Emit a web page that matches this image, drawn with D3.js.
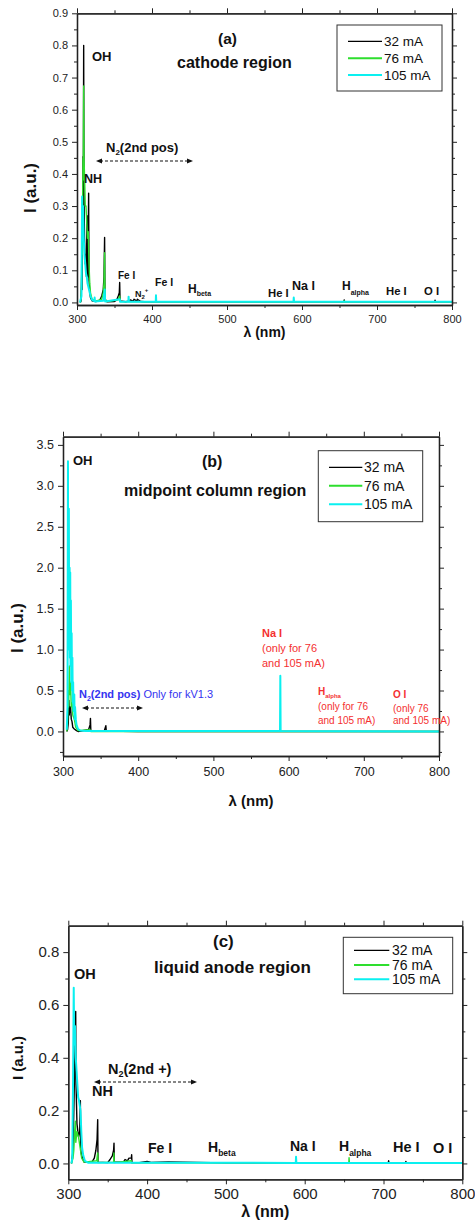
<!DOCTYPE html>
<html>
<head>
<meta charset="utf-8">
<script src="https://cdn.jsdelivr.net/npm/d3@7"></script>
<style>
  body { margin: 0; background: #fff; }
  svg { display: block; }
  text { font-family: "Liberation Sans", Arial, Helvetica, sans-serif; }
</style>
</head>
<body>
<svg id="fig" width="475" height="1223"></svg>
<script>
// ---- shared ----
const seriesNames  = ["32 mA", "76 mA", "105 mA"];
const seriesColors = ["#000000", "#2ede2e", "#0af0f0"];
const xMajor = [300, 400, 500, 600, 700, 800];
const xMinor = [350, 450, 550, 650, 750];

// ---- (a) cathode region: [wavelength nm, intensity a.u.] ----
const cathode32 = [
  [304.5,0],[305.5,0.005],[306.4,0.10],[306.8,0.04],[307.5,0.25],[308,0.454],[308.4,0.30],
  [308.9,0.80],[309.3,0.35],[310,0.20],[311,0.12],[312,0.15],[312.6,0.08],[313.3,0.27],
  [313.8,0.10],[314.7,0.08],[315.5,0.34],[316,0.07],[317,0.03],[318,0.015],[320,0.005],
  [325,0.003],[330,0.005],[333,0.02],[335,0.04],[336,0.08],[336.8,0.202],[337.3,0.01],
  [340,0.002],[350,0.003],[353,0.008],[355,0.02],[356.4,0.03],[356.9,0.062],[357.4,0.005],
  [365,0.002],[370,0.005],[371,0.008],[375,0.004],[376,0.01],[380,0.004],[380.5,0.01],
  [385,0.003],[390,0.002],[450,0.002],[500,0.002],[600,0.002],[656,0.002],[656.3,0.008],
  [656.8,0.002],[700,0.002],[777,0.002],[777.4,0.007],[777.8,0.002],[800,0.002]
];
const cathode76 = [
  [304,0],[305,0.005],[306,0.05],[306.5,0.20],[307,0.15],[307.6,0.35],[308,0.45],[308.3,0.38],
  [308.9,0.674],[309.3,0.45],[310,0.40],[311,0.30],[312,0.30],[313,0.25],[314,0.20],[315,0.22],
  [316,0.12],[317,0.06],[318,0.03],[320,0.01],[325,0.004],[333,0.01],[335,0.03],[336,0.06],
  [336.8,0.155],[337.3,0.01],[340,0.003],[355,0.008],[356.9,0.02],[357.5,0.003],[400,0.002],
  [656,0.002],[656.3,0.005],[656.7,0.002],[800,0.002]
];
const cathode105 = [
  [304,0],[305,0.01],[306,0.02],[306.8,0.33],[307.2,0.20],[308,0.30],[309,0.20],[310,0.15],
  [311,0.12],[312,0.09],[313,0.08],[314,0.06],[315,0.05],[316,0.04],[318,0.02],[320,0.008],
  [323,0.004],[323.5,0.015],[324,0.003],[335,0.005],[337,0.04],[337.5,0.003],[357,0.01],
  [357.5,0.002],[368.5,0.003],[368.8,0.018],[369.2,0.002],[405,0.002],[405.3,0.022],
  [405.7,0.002],[588.7,0.002],[589,0.015],[589.4,0.002],[800,0.002]
];

// ---- (b) midpoint column region ----
const midpoint32 = [
  [305,0],[306,0.02],[307,0.10],[307.8,0.38],[308.3,0.20],[309,0.30],[309.5,0.25],[310,0.30],
  [311,0.15],[312,0.12],[313,0.05],[315,0.03],[318,0.01],[320,0],[334,0.02],[336,0.08],
  [336.5,0.16],[337,0.01],[355,0.01],[357,0.07],[357.5,0.005],[400,0],[800,0]
];
const midpoint76 = [
  [305,0],[306,0.10],[307,0.50],[307.5,0.30],[308.5,0.80],[309,0.45],[310,0.60],[311,0.30],
  [312,0.35],[313,0.20],[315,0.15],[317,0.05],[320,0.01],[336,0.02],[337,0],[800,0]
];
const midpoint105 = [
  [305,0.02],[306,0.30],[306.6,3.30],[307,1.20],[307.4,2.20],[307.8,2.72],[308.2,1.00],
  [308.8,2.00],[309.2,0.90],[309.6,1.94],[310,0.80],[310.5,1.60],[311,0.60],[311.5,1.20],
  [312,0.50],[312.5,0.90],[313,0.35],[313.5,0.60],[314,0.25],[315,0.45],[315.5,0.15],
  [316,0.30],[317,0.15],[318,0.08],[320,0.03],[323,0.01],[330,0.005],[588.6,0.005],
  [589,0.68],[589.4,0.005],[800,0]
];

// ---- (c) liquid anode region ----
const anode32 = [
  [304,0],[306,0.05],[307,0.20],[308,0.35],[309.4,0.575],[309.8,0.30],[311,0.15],[313,0.10],
  [314.5,0.12],[315.3,0.238],[315.8,0.05],[317,0.03],[320,0.005],[330,0.005],[333,0.02],
  [335,0.05],[336.5,0.09],[337.3,0.166],[337.7,0.005],[350,0.003],[353,0.015],[356,0.03],
  [357.5,0.05],[358,0.077],[358.4,0.005],[370,0.005],[372,0.015],[375,0.01],[377,0.02],
  [380,0.02],[380.4,0.033],[380.8,0.003],[390,0.003],[400,0.008],[405,0.004],[427,0.006],
  [500,0.002],[706,0.002],[706.5,0.01],[707,0.002],[728,0.002],[728.4,0.008],[728.8,0.002],
  [800,0.002]
];
const anode76 = [
  [304,0],[305,0.01],[306,0.02],[307,0.05],[308,0.12],[309,0.16],[309.5,0.08],[311,0.12],
  [313,0.10],[315,0.06],[317,0.02],[320,0.005],[336,0.01],[337.3,0.04],[337.7,0.003],
  [357.5,0.005],[357.9,0.04],[358.3,0.003],[380,0.01],[380.4,0.002],[656,0.003],[656.3,0.022],
  [656.7,0.003],[800,0.002]
];
const anode105 = [
  [304,0],[305,0.02],[306,0.30],[306.9,0.665],[307.5,0.45],[308.5,0.52],[309.5,0.40],
  [310.5,0.35],[311.5,0.30],[312.5,0.25],[313.5,0.24],[314.5,0.22],[315.5,0.20],[316.5,0.12],
  [317.5,0.06],[319,0.03],[321,0.01],[325,0.003],[588.7,0.002],[589,0.025],[589.4,0.002],
  [800,0.002]
];

// ---- y tick values ----
const aYMajor = [0, 0.1, 0.2, 0.3, 0.4, 0.5, 0.6, 0.7, 0.8, 0.9];
const aYMinor = [0.05, 0.15, 0.25, 0.35, 0.45, 0.55, 0.65, 0.75, 0.85];
const bYMajor = [0, 0.5, 1.0, 1.5, 2.0, 2.5, 3.0, 3.5];
const bYMinor = [-0.25, 0.25, 0.75, 1.25, 1.75, 2.25, 2.75, 3.25];
const cYMajor = [0, 0.2, 0.4, 0.6, 0.8];
const cYMinor = [0.1, 0.3, 0.5, 0.7];

const svg = d3.select("#fig");

// text with sub/superscript parts
function rich(g, x, y, parts, base) {
  const t = g.append("text").attr("x", x).attr("y", y)
    .attr("font-size", base.size).attr("font-weight", base.bold ? "bold" : "normal")
    .attr("fill", base.fill || "#111");
  let shift = 0;
  parts.forEach(p => {
    const s = typeof p === "string" ? { t: p } : p;
    const target = s.sub ? s.sub : s.sup ? -s.sup : 0;
    const sp = t.append("tspan").text(s.t).attr("dy", target - shift);
    if (s.size) sp.attr("font-size", s.size);
    if (s.bold !== undefined) sp.attr("font-weight", s.bold ? "bold" : "normal");
    shift = target;
  });
  return t;
}

function dashedArrow(g, x0, x1, y) {
  g.append("line").attr("x1", x0 + 4).attr("x2", x1 - 4).attr("y1", y).attr("y2", y)
    .attr("stroke", "#111").attr("stroke-width", 1.1).attr("stroke-dasharray", "3,2");
  g.append("path").attr("d", `M${x0},${y}l6,-2.6v5.2z`).attr("fill", "#111");
  g.append("path").attr("d", `M${x1},${y}l-6,-2.6v5.2z`).attr("fill", "#111");
}

function drawPanel(p) {
  const x = d3.scaleLinear().domain([300, 800]).range([p.left, p.right]);
  const y = d3.scaleLinear().domain(p.yDomain).range([p.bottom, p.top]);
  const g = svg.append("g");

  const clipId = "clip-" + p.id;
  g.append("clipPath").attr("id", clipId).append("rect")
    .attr("x", p.left).attr("y", p.top).attr("width", p.right - p.left).attr("height", p.bottom - p.top);

  // spectra
  const line = d3.line().x(d => x(d[0])).y(d => y(d[1]));
  const lines = g.append("g").attr("clip-path", `url(#${clipId})`);
  p.series.forEach((s, i) => {
    lines.append("path").datum(s).attr("d", line).attr("fill", "none")
      .attr("stroke", seriesColors[i]).attr("stroke-width", i === 2 ? 2 : 1.4)
      .attr("stroke-linejoin", "round");
  });

  // axes on all four sides, labels only bottom/left
  const ax = (gen, scale, vals, size, fmt, tr, pad) => {
    const a = gen(scale).tickValues(vals).tickSize(size).tickSizeOuter(0).tickPadding(pad || 3)
      .tickFormat(fmt || "");
    const ag = g.append("g").attr("transform", tr).call(a);
    ag.select(".domain").attr("stroke", "#222").attr("stroke-width", 1.3);
    ag.selectAll(".tick line").attr("stroke", "#222").attr("stroke-width", 1);
    ag.selectAll("text").attr("font-family", "Liberation Sans, Arial, sans-serif")
      .attr("font-size", p.tickSize).attr("fill", "#222");
    return ag;
  };
  const fy = d3.format(".1f"), fx = d3.format("d");
  ax(d3.axisBottom, x, xMajor, 5, fx, `translate(0,${p.bottom})`, p.xPad);
  ax(d3.axisBottom, x, xMinor, 3, null, `translate(0,${p.bottom})`);
  ax(d3.axisTop, x, xMajor, 5, null, `translate(0,${p.top})`);
  ax(d3.axisTop, x, xMinor, 3, null, `translate(0,${p.top})`);
  ax(d3.axisLeft, y, p.yMajor, 5, fy, `translate(${p.left},0)`, p.yPad);
  ax(d3.axisLeft, y, p.yMinor, 3, null, `translate(${p.left},0)`);
  ax(d3.axisRight, y, p.yMajor, 5, null, `translate(${p.right},0)`);
  ax(d3.axisRight, y, p.yMinor, 3, null, `translate(${p.right},0)`);

  // axis titles
  g.append("text").attr("x", (p.left + p.right) / 2).attr("y", p.xTitleY)
    .attr("text-anchor", "middle").attr("font-weight", "bold").attr("font-size", p.xTitleSize)
    .attr("fill", "#111").text("λ (nm)");
  g.append("text").attr("transform", `translate(${p.yTitleX},${p.yTitleY}) rotate(-90)`)
    .attr("text-anchor", "middle").attr("font-weight", "bold").attr("font-size", p.yTitleSize)
    .attr("fill", "#111").text("I (a.u.)");

  // legend
  const L = p.legend;
  g.append("rect").attr("x", L.x0).attr("y", L.y0).attr("width", L.x1 - L.x0).attr("height", L.y1 - L.y0)
    .attr("fill", "#fff").attr("stroke", "#333").attr("stroke-width", 1);
  seriesNames.forEach((n, i) => {
    g.append("line").attr("x1", L.lx0).attr("x2", L.lx1).attr("y1", L.rows[i]).attr("y2", L.rows[i])
      .attr("stroke", seriesColors[i]).attr("stroke-width", i === 0 ? 1.2 : 2);
    g.append("text").attr("x", L.tx).attr("y", L.rows[i]).attr("dy", "0.36em")
      .attr("font-size", L.size).attr("fill", "#111").text(n);
  });

  // annotations
  p.notes.forEach(n => rich(g, n.x, n.y, n.parts, n));
  p.arrows.forEach(a => dashedArrow(g, a[0], a[1], a[2]));
}

const blue = "#3434f0", red = "#f43030";

drawPanel({
  id: "a", left: 77, right: 452, top: 13.3, bottom: 305, yDomain: [-0.008, 0.9],
  series: [cathode32, cathode76, cathode105],
  yMajor: aYMajor, yMinor: aYMinor, tickSize: 11, xPad: 5, yPad: 4,
  xTitleY: 337, xTitleSize: 14, yTitleX: 36, yTitleY: 188, yTitleSize: 17,
  legend: { x0: 337, y0: 25, x1: 442, y1: 91, rows: [41.3, 58.3, 75], lx0: 348, lx1: 382, tx: 384, size: 13.5 },
  notes: [
    { x: 218, y: 44, size: 15.5, bold: true, parts: ["(a)"] },
    { x: 177, y: 68, size: 16, bold: true, parts: ["cathode region"] },
    { x: 92, y: 61, size: 13, bold: true, parts: ["OH"] },
    { x: 106, y: 152, size: 13, bold: true, parts: ["N", { t: "2", sub: 3, size: 8 }, "(2nd pos)"] },
    { x: 84, y: 183, size: 12.5, bold: true, parts: ["NH"] },
    { x: 118, y: 279, size: 10, bold: true, parts: ["Fe I"] },
    { x: 135, y: 297, size: 9, bold: true, parts: ["N", { t: "2", sub: 2, size: 6 }, { t: "+", sup: 5, size: 6 }] },
    { x: 155, y: 286, size: 10.5, bold: true, parts: ["Fe I"] },
    { x: 188, y: 293, size: 12, bold: true, parts: ["H", { t: "beta", sub: 3, size: 7 }] },
    { x: 268, y: 297, size: 11.3, bold: true, parts: ["He I"] },
    { x: 292, y: 290, size: 12.5, bold: true, parts: ["Na I"] },
    { x: 342, y: 290, size: 12, bold: true, parts: ["H", { t: "alpha", sub: 5, size: 7 }] },
    { x: 386, y: 295, size: 11.3, bold: true, parts: ["He I"] },
    { x: 424, y: 295, size: 11.3, bold: true, parts: ["O I"] }
  ],
  arrows: [[96, 193, 161]]
});

drawPanel({
  id: "b", left: 63, right: 439, top: 436.7, bottom: 756, yDomain: [-0.3, 3.6],
  series: [midpoint32, midpoint76, midpoint105],
  yMajor: bYMajor, yMinor: bYMinor, tickSize: 12.5, xPad: 6, yPad: 4,
  xTitleY: 806, xTitleSize: 15, yTitleX: 23, yTitleY: 628, yTitleSize: 17,
  legend: { x0: 318.3, y0: 450.7, x1: 422.7, y1: 521.7, rows: [467.3, 485.7, 504.3], lx0: 329, lx1: 362.3, tx: 364, size: 14 },
  notes: [
    { x: 73, y: 465, size: 13, bold: true, parts: ["OH"] },
    { x: 202, y: 467, size: 16, bold: true, parts: ["(b)"] },
    { x: 124, y: 496, size: 16, bold: true, parts: ["midpoint column region"] },
    { x: 79, y: 698, size: 11, bold: true, fill: blue,
      parts: ["N", { t: "2", sub: 3, size: 7 }, "(2nd pos)", { t: " Only for kV1.3", bold: false }] },
    { x: 262, y: 637, size: 11, bold: true, fill: red, parts: ["Na I"] },
    { x: 262, y: 652, size: 11, fill: red, parts: ["(only for 76"] },
    { x: 262, y: 667, size: 11, fill: red, parts: ["and 105 mA)"] },
    { x: 318, y: 695, size: 10, bold: true, fill: red, parts: ["H", { t: "alpha", sub: 3, size: 6 }] },
    { x: 318, y: 710, size: 10, fill: red, parts: ["(only for 76"] },
    { x: 318, y: 724, size: 10, fill: red, parts: ["and 105 mA)"] },
    { x: 393, y: 698, size: 10, bold: true, fill: red, parts: ["O I"] },
    { x: 393, y: 712, size: 10, fill: red, parts: ["(only 76"] },
    { x: 393, y: 724, size: 10, fill: red, parts: ["and 105 mA)"] }
  ],
  arrows: [[82, 143, 708]]
});

drawPanel({
  id: "c", left: 68.3, right: 462.3, top: 925.7, bottom: 1179.3, yDomain: [-0.06, 0.9],
  series: [anode32, anode76, anode105],
  yMajor: cYMajor, yMinor: cYMinor, tickSize: 15, xPad: 4, yPad: 4,
  xTitleY: 1217, xTitleSize: 16, yTitleX: 23, yTitleY: 1058, yTitleSize: 15,
  legend: { x0: 343.3, y0: 937.3, x1: 452.7, y1: 993.7, rows: [950.3, 965, 979.3], lx0: 354, lx1: 389.3, tx: 392, size: 14 },
  notes: [
    { x: 213, y: 947, size: 17, bold: true, parts: ["(c)"] },
    { x: 154, y: 973, size: 17, bold: true, parts: ["liquid anode region"] },
    { x: 74, y: 979, size: 14.5, bold: true, parts: ["OH"] },
    { x: 108, y: 1074, size: 14.5, bold: true, parts: ["N", { t: "2", sub: 3, size: 9 }, "(2nd +)"] },
    { x: 92, y: 1096, size: 14.5, bold: true, parts: ["NH"] },
    { x: 148, y: 1153, size: 14, bold: true, parts: ["Fe I"] },
    { x: 208, y: 1152, size: 14, bold: true, parts: ["H", { t: "beta", sub: 4, size: 8.5 }] },
    { x: 290, y: 1151, size: 14, bold: true, parts: ["Na I"] },
    { x: 339, y: 1151, size: 14, bold: true, parts: ["H", { t: "alpha", sub: 5, size: 8.5 }] },
    { x: 393, y: 1152, size: 14.5, bold: true, parts: ["He I"] },
    { x: 433, y: 1153, size: 14.5, bold: true, parts: ["O I"] }
  ],
  arrows: [[94, 197, 1082]]
});
</script>
</body>
</html>
